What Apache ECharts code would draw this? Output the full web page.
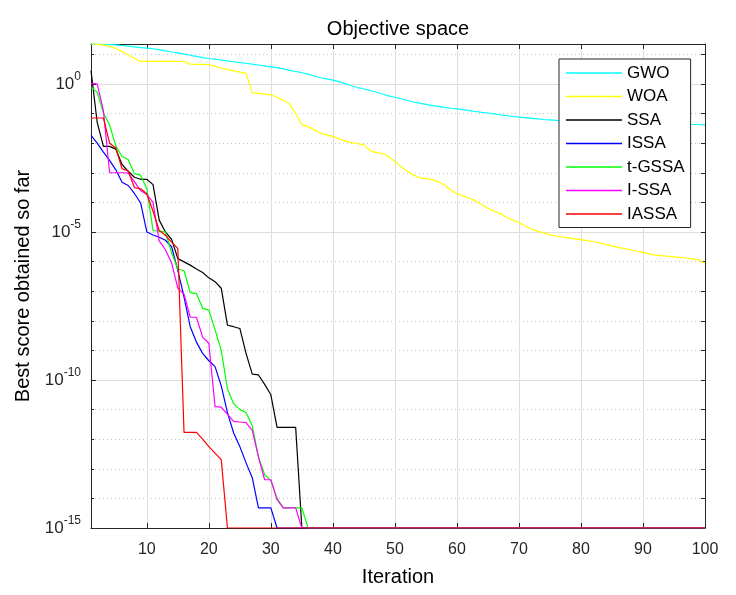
<!DOCTYPE html>
<html>
<head>
<meta charset="utf-8">
<script src="https://cdn.jsdelivr.net/npm/echarts@6/dist/echarts.min.js"></script>
<style>
  html, body { margin: 0; padding: 0; background: #fff; }
  #chart { width: 736px; height: 595px; }
</style>
</head>
<body>
<div id="chart"></div>
<script>
const FONT = '"Liberation Sans", Arial, Helvetica, sans-serif';
const AXIS_COLOR = '#262626';

// convergence curves, stored as log10(best score) for iterations 1, 2, 3, ...
const gwoLog = [
  1.35, 1.35, 1.34, 1.33, 1.32, 1.30, 1.28, 1.25, 1.23, 1.21,
  1.19, 1.16, 1.12, 1.08, 1.05, 1.01, 0.97, 0.93, 0.89, 0.86,
  0.84, 0.81, 0.78, 0.75, 0.72, 0.70, 0.67, 0.64, 0.61, 0.58,
  0.55, 0.51, 0.46, 0.42, 0.38, 0.33, 0.27, 0.21, 0.17, 0.13,
  0.08, 0.01, -0.06, -0.12, -0.17, -0.22, -0.28, -0.34, -0.40, -0.45,
  -0.50, -0.56, -0.61, -0.65, -0.69, -0.73, -0.76, -0.79, -0.82, -0.84,
  -0.87, -0.90, -0.93, -0.96, -0.98, -1.01, -1.04, -1.07, -1.10, -1.12,
  -1.14, -1.16, -1.18, -1.20, -1.21, -1.23, -1.24, -1.25, -1.26, -1.27,
  -1.27, -1.28, -1.29, -1.29, -1.30, -1.31, -1.31, -1.32, -1.32, -1.33,
  -1.33, -1.34, -1.34, -1.35, -1.35, -1.36, -1.36, -1.37, -1.37, -1.38
];
const woaLog = [
  1.35, 1.34, 1.32, 1.27, 1.20, 1.10, 0.98, 0.86, 0.76, 0.76,
  0.76, 0.76, 0.76, 0.76, 0.76, 0.76, 0.67, 0.66, 0.66, 0.65,
  0.60, 0.53, 0.49, 0.44, 0.40, 0.36, -0.30, -0.32, -0.34, -0.37,
  -0.45, -0.55, -0.68, -1.00, -1.38, -1.44, -1.55, -1.66, -1.72, -1.78,
  -1.85, -1.93, -1.98, -2.02, -2.05, -2.25, -2.32, -2.35, -2.45, -2.62,
  -2.80, -2.95, -3.08, -3.17, -3.20, -3.23, -3.30, -3.42, -3.58, -3.71,
  -3.78, -3.86, -3.95, -4.08, -4.20, -4.30, -4.38, -4.50, -4.60, -4.68,
  -4.80, -4.90, -4.97, -5.03, -5.10, -5.14, -5.17, -5.20, -5.23, -5.26,
  -5.29, -5.33, -5.36, -5.43, -5.47, -5.52, -5.56, -5.60, -5.65, -5.69,
  -5.74, -5.78, -5.80, -5.82, -5.84, -5.86, -5.88, -5.91, -5.94, -6.06
];
// these reach the floor value and stay there up to the last iteration
const ssaLog = [
  0.45, -1.30, -2.11, -2.11, -2.20, -2.72, -2.95, -3.15, -3.22, -3.22,
  -3.40, -4.60, -5.00, -5.25, -5.90, -6.01, -6.12, -6.25, -6.37, -6.55,
  -6.68, -6.90, -8.15, -8.20, -8.26, -9.10, -9.80, -9.83, -10.15, -10.50,
  -11.60, -11.60, -11.60, -11.60, -15.00
];
const issaLog = [
  -1.74, -2.00, -2.30, -2.58, -2.90, -3.32, -3.43, -3.70, -4.02, -5.00,
  -5.10, -5.18, -5.28, -5.50, -6.30, -7.20, -8.20, -8.72, -9.10, -9.35,
  -9.55, -10.20, -11.10, -11.79, -12.25, -12.80, -13.30, -14.32, -14.32, -14.32,
  -15.00
];
const tgssaLog = [
  -0.13, -0.27, -0.98, -1.38, -2.10, -2.45, -2.55, -3.03, -3.08, -3.54,
  -4.95, -4.97, -5.00, -5.70, -6.25, -6.31, -7.05, -7.08, -7.58, -7.64,
  -8.30, -9.00, -10.30, -10.80, -11.00, -11.10, -11.55, -12.60, -13.20, -13.40,
  -14.00, -14.32, -14.32, -14.32, -14.32, -15.00
];
const issa2Log = [
  0.02, 0.00, -0.90, -3.00, -3.00, -3.00, -3.01, -3.30, -3.60, -3.73,
  -4.00, -5.30, -5.60, -6.05, -6.90, -7.10, -7.88, -7.88, -8.55, -8.76,
  -10.90, -10.92, -11.15, -11.40, -11.42, -11.44, -11.70, -12.60, -13.37, -13.37,
  -14.04, -14.32, -14.32, -14.32, -15.00
];
const iassaLog = [
  -1.15, -1.15, -1.15, -2.00, -2.16, -2.86, -2.94, -3.50, -3.54, -3.71,
  -4.30, -4.95, -5.11, -5.34, -5.56, -11.77, -11.77, -11.77, -12.00, -12.25,
  -12.47, -12.69, -15.00
];

const seriesNames = ['GWO', 'WOA', 'SSA', 'ISSA', 't-GSSA', 'I-SSA', 'IASSA'];
const seriesLogs = [gwoLog, woaLog, ssaLog, issaLog, tgssaLog, issa2Log, iassaLog];
const seriesColors = ['#00ffff', '#ffff00', '#000000', '#0000ff', '#00ff00', '#ff00ff', '#ff0000'];

const lastIter = 100;
const yMinLog = -15;
const yMaxLog = 1.35;
const xTicks = [10, 20, 30, 40, 50, 60, 70, 80, 90, 100];
const yMajorLogs = [-15, -10, -5, 0];
const yAllLogs = [-15, -14, -13, -12, -11, -10, -9, -8, -7, -6, -5, -4, -3, -2, -1, 0, 1];

const pow10 = e => Math.pow(10, e);
const yMajor = yMajorLogs.map(pow10);
const yMinor = yAllLogs.filter(e => yMajorLogs.indexOf(e) < 0).map(pow10);
const yAll = yAllLogs.map(pow10);

function toPoints(logs) {
  const pts = logs.map((e, i) => [i + 1, pow10(e)]);
  // flat at the floor after the last listed iteration
  if (logs.length < lastIter) pts.push([lastIter, pow10(logs[logs.length - 1])]);
  return pts;
}

const chart = echarts.init(document.getElementById('chart'), null, { renderer: 'canvas' });

const logAxisBase = {
  type: 'log',
  min: pow10(yMinLog),
  max: pow10(yMaxLog),
  axisLine: { show: false },
  axisTick: { show: false },
  axisLabel: { show: false },
  splitLine: { show: false }
};

chart.setOption({
  backgroundColor: '#fff',
  animation: false,
  title: {
    text: 'Objective space',
    left: 398, top: 19, padding: 0,
    textAlign: 'center',
    textStyle: { fontFamily: FONT, fontSize: 20, fontWeight: 'normal', color: '#000' }
  },
  grid: { left: 91, right: 31, top: 44, bottom: 67, outerBoundsMode: 'none' },
  legend: {
    orient: 'vertical',
    left: 559, top: 59,
    padding: [5.5, 6, 5, 7],
    icon: 'rect',
    itemWidth: 56, itemHeight: 1.5, itemGap: 6.5,
    backgroundColor: '#fff',
    borderColor: AXIS_COLOR, borderWidth: 1, borderRadius: 0,
    textStyle: { fontFamily: FONT, fontSize: 17, color: '#000' },
    data: seriesNames
  },
  xAxis: [{
    type: 'value', position: 'bottom',
    min: 1, max: lastIter,
    name: 'Iteration', nameLocation: 'middle', nameGap: 39,
    nameTextStyle: { fontFamily: FONT, fontSize: 20, color: '#000' },
    axisLine: { show: true, lineStyle: { color: AXIS_COLOR, width: 1 } },
    axisTick: { show: true, inside: true, length: 5, customValues: xTicks, lineStyle: { color: AXIS_COLOR } },
    axisLabel: { customValues: xTicks, margin: 14, fontFamily: FONT, fontSize: 16, color: AXIS_COLOR },
    splitLine: { show: true, lineStyle: { color: '#dedede', width: 1 } }
  }, {
    type: 'value', position: 'top',
    min: 1, max: lastIter,
    axisLine: { show: true, lineStyle: { color: AXIS_COLOR, width: 1 } },
    axisTick: { show: true, inside: true, length: 5, customValues: xTicks, lineStyle: { color: AXIS_COLOR } },
    axisLabel: { show: false },
    splitLine: { show: false }
  }],
  yAxis: [Object.assign({}, logAxisBase, {
    position: 'left',
    name: 'Best score obtained so far', nameLocation: 'middle', nameGap: 58,
    nameTextStyle: { fontFamily: FONT, fontSize: 20, color: '#000' },
    axisLine: { show: true, lineStyle: { color: AXIS_COLOR, width: 1 } },
    axisTick: { show: true, inside: true, length: 5, customValues: yMajor, lineStyle: { color: AXIS_COLOR } },
    axisLabel: {
      show: true, customValues: yMajor, margin: 10,
      formatter: v => '{b|10}{s|' + Math.round(Math.log10(v)) + '}',
      rich: {
        b: { fontFamily: FONT, fontSize: 17, color: AXIS_COLOR },
        s: { fontFamily: FONT, fontSize: 12, color: AXIS_COLOR, padding: [0, 0, 15, 0] }
      }
    },
    splitLine: { show: true, lineStyle: { color: '#dedede', width: 1 } }
  }), Object.assign({}, logAxisBase, {
    position: 'left',
    axisTick: { show: true, inside: true, length: 3, customValues: yMinor, lineStyle: { color: AXIS_COLOR } },
    splitLine: { show: true, lineStyle: { color: '#c4c4c4', width: 1, type: [1, 3] } }
  }), Object.assign({}, logAxisBase, {
    position: 'right',
    axisLine: { show: true, lineStyle: { color: AXIS_COLOR, width: 1 } },
    axisTick: { show: true, inside: true, length: 4, customValues: yAll, lineStyle: { color: AXIS_COLOR } }
  })],
  series: seriesNames.map((name, k) => ({
    name: name,
    type: 'line',
    xAxisIndex: 0,
    yAxisIndex: 0,
    symbol: 'none',
    showSymbol: false,
    lineStyle: { color: seriesColors[k], width: 1.2 },
    itemStyle: { color: seriesColors[k] },
    emphasis: { disabled: true },
    data: toPoints(seriesLogs[k])
  }))
});
</script>
</body>
</html>
